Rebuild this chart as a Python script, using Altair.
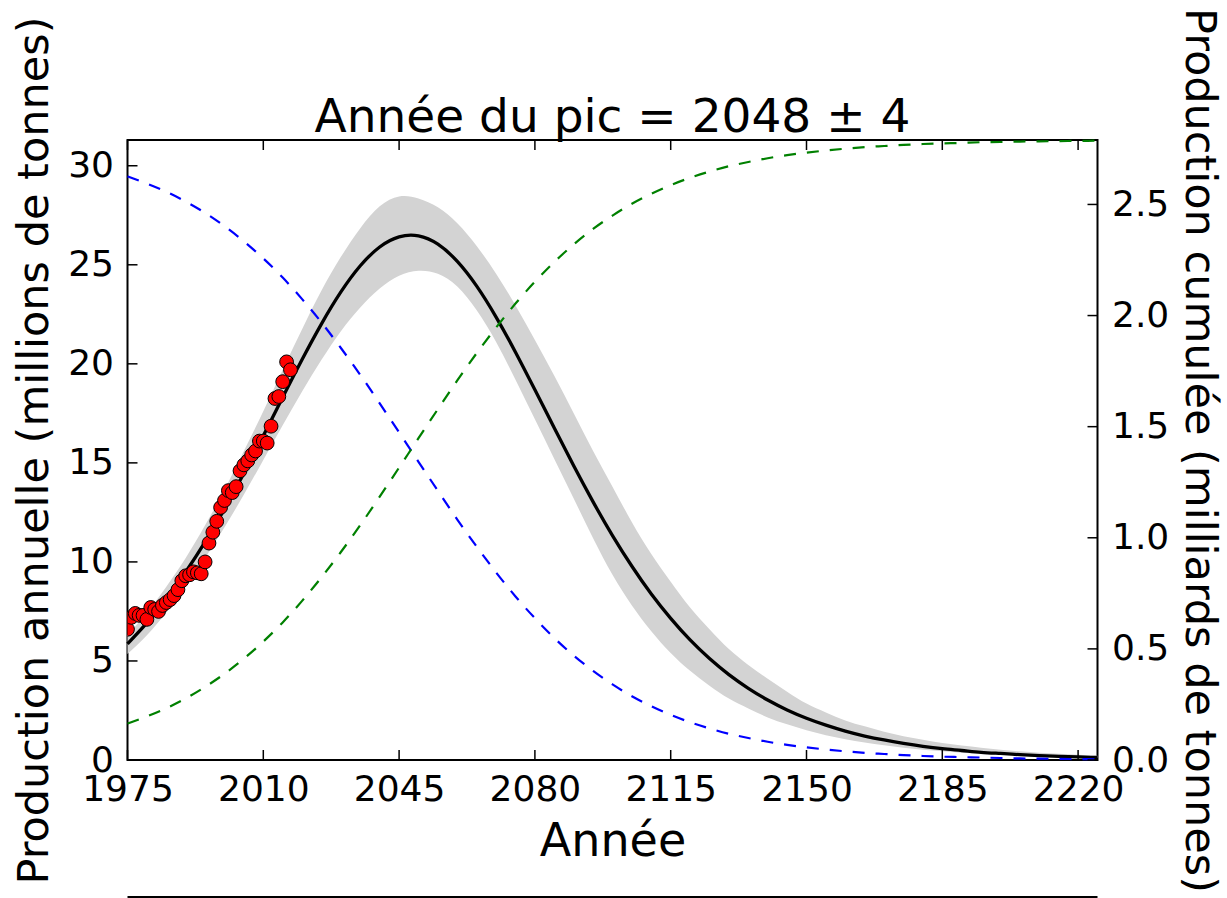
import altair as alt
import pandas as pd

# ---- text ----
TITLE = "Année du pic = 2048 ± 4"
X_TITLE = "Année"
Y_LEFT_TITLE = "Production annuelle (millions de tonnes)"
Y_RIGHT_TITLE = "Production cumulée (milliards de tonnes)"

# ---- observed annual production (millions of tonnes) ----
obs_years = list(range(1975, 2018))
obs_prod = [6.6, 7.2, 7.4, 7.3, 7.3, 7.1, 7.7, 7.6, 7.5, 7.8,
            7.95, 8.1, 8.3, 8.6, 9.05, 9.3, 9.35, 9.5, 9.45, 9.4,
            10.0, 10.95, 11.5, 12.05, 12.75, 13.1, 13.6, 13.5, 13.8, 14.6,
            14.9, 15.1, 15.4, 15.6, 16.1, 16.1, 16.0, 16.85, 18.25, 18.35,
            19.1, 20.1, 19.7]

# ---- fitted curve, every 5 years ----
fit_years = list(range(1975, 2226, 5))
fit_prod = [5.86, 6.92, 8.12, 9.49, 11.01, 12.68, 14.48, 16.37, 18.31, 20.22,
            22.02, 23.63, 24.95, 25.90, 26.41, 26.46, 26.04, 25.17, 23.92, 22.36,
            20.59, 18.69, 16.76, 14.85, 13.03, 11.33, 9.78, 8.38, 7.15, 6.06,
            5.12, 4.31, 3.62, 3.03, 2.53, 2.11, 1.76, 1.46, 1.21, 1.01,
            0.84, 0.69, 0.57, 0.48, 0.39, 0.33, 0.27, 0.22, 0.185, 0.153, 0.127]
fit_hi = [6.3, 7.45, 8.75, 10.2, 11.85, 13.65, 15.6, 17.6, 19.7, 21.75,
          23.7, 25.4, 26.85, 27.95, 28.45, 28.35, 27.9, 27.1, 25.95, 24.55,
          22.95, 21.2, 19.4, 17.5, 15.6, 13.8, 12.0, 10.4, 9.0, 7.7,
          6.6, 5.6, 4.8, 4.1, 3.45, 2.85, 2.4, 2.0, 1.7, 1.42,
          1.2, 1.02, 0.86, 0.73, 0.62, 0.52, 0.44, 0.37, 0.31, 0.26, 0.22]
fit_lo = [5.35, 6.3, 7.45, 8.75, 10.2, 11.75, 13.4, 15.15, 16.9, 18.6,
          20.2, 21.65, 22.85, 23.8, 24.45, 24.7, 24.55, 23.9, 22.7, 21.1,
          19.2, 17.2, 15.2, 13.2, 11.2, 9.35, 7.8, 6.5, 5.4, 4.5,
          3.75, 3.1, 2.6, 2.15, 1.8, 1.5, 1.25, 1.05, 0.88, 0.74,
          0.62, 0.52, 0.44, 0.37, 0.31, 0.26, 0.22, 0.18, 0.15, 0.13, 0.11]

# ---- cumulative and remaining production (billions of tonnes) ----
cum_prod = [0.164, 0.196, 0.233, 0.277, 0.329, 0.388, 0.456, 0.533, 0.619, 0.716,
            0.822, 0.936, 1.057, 1.185, 1.316, 1.448, 1.579, 1.708, 1.831, 1.946,
            2.054, 2.152, 2.241, 2.320, 2.390, 2.450, 2.503, 2.548, 2.587, 2.620,
            2.648, 2.672, 2.691, 2.708, 2.722, 2.733, 2.743, 2.751, 2.758, 2.763,
            2.768, 2.772, 2.775, 2.777, 2.780, 2.781, 2.783, 2.784, 2.785, 2.786, 2.787]
remaining = [2.626, 2.594, 2.557, 2.513, 2.462, 2.402, 2.334, 2.257, 2.171, 2.074,
             1.969, 1.854, 1.733, 1.605, 1.474, 1.342, 1.211, 1.082, 0.960, 0.844,
             0.736, 0.638, 0.549, 0.470, 0.401, 0.340, 0.287, 0.242, 0.203, 0.170,
             0.142, 0.118, 0.099, 0.082, 0.068, 0.057, 0.047, 0.039, 0.032, 0.027,
             0.022, 0.018, 0.015, 0.013, 0.011, 0.009, 0.007, 0.006, 0.005, 0.004, 0.003]

# ---- ticks ----
x_ticks = [1975, 2010, 2045, 2080, 2115, 2150, 2185, 2220]
y_left_ticks = [0, 5, 10, 15, 20, 25, 30]
y_right_ticks = [0.0, 0.5, 1.0, 1.5, 2.0, 2.5]

W, H = 970, 620
FONT = "DejaVu Sans"
TICK_LEN = 10
CURVE = "natural"

fit_df = pd.DataFrame({"year": fit_years, "prod": fit_prod, "hi": fit_hi,
                       "lo": fit_lo, "cum": cum_prod, "rem": remaining})
obs_df = pd.DataFrame({"year": obs_years, "prod": obs_prod})
xt_df = pd.DataFrame({"t": x_ticks})
ylt_df = pd.DataFrame({"t": y_left_ticks})
yrt_df = pd.DataFrame({"t": y_right_ticks})
one_row = alt.Data(values=[{"label": TITLE}])

x_scale = alt.Scale(domain=[1975, 2225], nice=False, zero=False)
yl_scale = alt.Scale(domain=[0, 31.3], nice=False, zero=False)
yr_scale = alt.Scale(domain=[0, 2.79], nice=False, zero=False)

common_axis = dict(domain=False, ticks=False, tickSize=0, grid=False,
                   labelFontSize=36, labelFont=FONT, labelColor="black",
                   labelOverlap=False, titleFont=FONT, titleFontWeight="normal",
                   titleColor="black", titleBaseline="alphabetic", titleAlign="center")

x_axis = alt.Axis(values=x_ticks, format="d", title=X_TITLE, labelPadding=40,
                  labelBaseline="alphabetic", labelFlush=False,
                  titleFontSize=46, titleX=W / 2, titleY=95, **common_axis)
yl_axis = alt.Axis(values=y_left_ticks, format="d", title=Y_LEFT_TITLE,
                   labelPadding=14, titleFontSize=43, titleAngle=270,
                   titleX=-80, titleY=H / 2, **common_axis)
yr_axis = alt.Axis(values=y_right_ticks, format=".1f", title=Y_RIGHT_TITLE,
                   orient="right", labelPadding=14, titleFontSize=43, titleAngle=90,
                   titleX=88, titleY=H / 2, **common_axis)

X = alt.X("year:Q", scale=x_scale, axis=x_axis)
XT = alt.X("t:Q", scale=x_scale, axis=x_axis)


def y_left(field):
    return alt.Y(field, scale=yl_scale, axis=yl_axis)


def y_right(field):
    return alt.Y(field, scale=yr_scale, axis=yr_axis)


# uncertainty band around the fitted curve
band = alt.Chart(fit_df).mark_area(color="#d3d3d3", interpolate=CURVE).encode(
    x=X, y=y_left("lo:Q"), y2="hi:Q",
)

fit_line = alt.Chart(fit_df).mark_line(color="black", strokeWidth=3.3,
                                       interpolate=CURVE).encode(
    x=X, y=y_left("prod:Q"),
)

points = alt.Chart(obs_df).mark_circle(size=190, color="red", opacity=1,
                                       stroke="black", strokeWidth=1, clip=True).encode(
    x=X, y=y_left("prod:Q"),
)

tick_style = dict(color="black", strokeWidth=1.5)
bottom_ticks = alt.Chart(xt_df).mark_rule(**tick_style).encode(
    x=XT, y=alt.value(H), y2=alt.value(H - TICK_LEN),
)
top_ticks = alt.Chart(xt_df).mark_rule(**tick_style).encode(
    x=XT, y=alt.value(0), y2=alt.value(TICK_LEN),
)
left_ticks = alt.Chart(ylt_df).mark_rule(**tick_style).encode(
    y=y_left("t:Q"), x=alt.value(0), x2=alt.value(TICK_LEN),
)

title_text = alt.Chart(one_row).mark_text(font=FONT, fontSize=47, color="black",
                                          baseline="alphabetic", align="center").encode(
    text="label:N", x=alt.value(W / 2), y=alt.value(-8),
)

# top edge of the panel below
next_panel = alt.Chart(alt.Data(values=[{"k": 0}])).mark_rule(color="black", strokeWidth=2).encode(
    x=alt.value(0), x2=alt.value(W), y=alt.value(757),
)

left = alt.layer(band, fit_line, points, bottom_ticks, top_ticks, left_ticks,
                 title_text, next_panel)

dash = [12, 11]
remaining_line = alt.Chart(fit_df).mark_line(color="#0000ff", strokeWidth=2.2,
                                             strokeDash=dash, interpolate=CURVE).encode(
    x=X, y=y_right("rem:Q"),
)
cum_line = alt.Chart(fit_df).mark_line(color="#008000", strokeWidth=2.2,
                                       strokeDash=dash, interpolate=CURVE).encode(
    x=X, y=y_right("cum:Q"),
)
right_ticks = alt.Chart(yrt_df).mark_rule(**tick_style).encode(
    y=y_right("t:Q"), x=alt.value(W - TICK_LEN), x2=alt.value(W),
)

right = alt.layer(remaining_line, cum_line, right_ticks)

chart = (
    alt.layer(left, right)
    .resolve_scale(y="independent")
    .properties(
        width=W, height=H,
        padding={"left": 127.5, "top": 140, "right": 129.5, "bottom": 138},
        autosize=alt.AutoSizeParams(type="none"),
        background="white",
    )
    .configure_view(stroke="black", strokeWidth=2)
)

chart.save("out.html", embed_options={"renderer": "svg", "actions": False})
